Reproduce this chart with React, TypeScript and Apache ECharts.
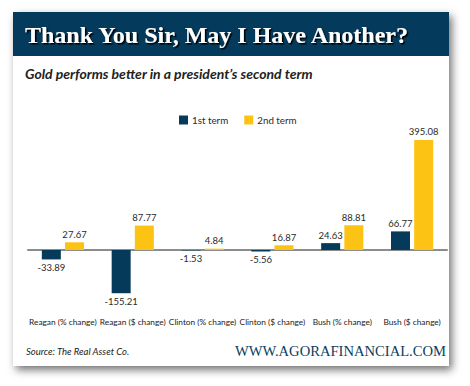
import React, { useEffect, useRef } from "react";
import * as echarts from "echarts";

const categories = [
  "Reagan (% change)",
  "Reagan ($ change)",
  "Clinton (% change)",
  "Clinton ($ change)",
  "Bush (% change)",
  "Bush ($ change)",
];
const firstTerm = [-33.89, -155.21, -1.53, -5.56, 24.63, 66.77];
const secondTerm = [27.67, 87.77, 4.84, 16.87, 88.81, 395.08];

const DARK = "#053a5a";
const GOLD = "#fdc314";

function withLabels(vals: number[]) {
  return vals.map((v) => ({
    value: v,
    label: { position: v < 0 ? "bottom" : "top" },
  }));
}

export default function App() {
  const ref = useRef<HTMLDivElement>(null);
  useEffect(() => {
    document.body.style.margin = "0";
    const chart = echarts.init(ref.current!, null, { renderer: "svg" });
    const labelStyle = {
      show: true,
      fontFamily: "Lato",
      fontSize: 9.5,
      color: "#2a2a2a",
      distance: 3,
      formatter: (p: any) => p.value.toFixed(2),
    };
    chart.setOption({
      animation: false,
      backgroundColor: "#ffffff",
      graphic: [
        {
          type: "rect",
          z: -10,
          shape: { x: 13, y: 12, width: 436, height: 354 },
          style: {
            fill: "#ffffff",
            shadowBlur: 9,
            shadowOffsetX: 3,
            shadowOffsetY: 4,
            shadowColor: "rgba(0,0,0,0.55)",
          },
        },
        {
          type: "rect",
          z: -9,
          shape: { x: 13, y: 12, width: 436, height: 44 },
          style: { fill: "#043a5b" },
        },
        {
          type: "text",
          z: 5,
          x: 25,
          y: 35,
          style: {
            text: "Thank You Sir, May I Have Another?",
            fontFamily: "Liberation Serif",
            fontWeight: "bold",
            fontSize: 24,
            fill: "#ffffff",
            textVerticalAlign: "middle",
            textShadowColor: "#000000",
            textShadowOffsetX: 1.5,
            textShadowOffsetY: 1.5,
            textShadowBlur: 1,
          },
        },
        {
          type: "text",
          z: 5,
          x: 25,
          y: 73,
          style: {
            text: "Gold performs better in a president\u2019s second term",
            fontFamily: "Lato",
            fontWeight: "bold",
            fontStyle: "italic",
            fontSize: 14,
            fill: "#222222",
            textVerticalAlign: "middle",
          },
        },
        {
          type: "text",
          z: 5,
          x: 26,
          y: 351,
          style: {
            text: "Source: The Real Asset Co.",
            fontFamily: "Lato",
            fontStyle: "italic",
            fontSize: 9.5,
            fill: "#222222",
            textVerticalAlign: "middle",
          },
        },
        {
          type: "text",
          z: 5,
          x: 446,
          y: 351,
          style: {
            text: "WWW.AGORAFINANCIAL.COM",
            fontFamily: "Liberation Serif",
            fontSize: 14.6,
            fill: "#0d3d5e",
            textAlign: "right",
            textVerticalAlign: "middle",
          },
        },
      ],
      legend: {
        top: 115,
        left: 179,
        padding: 0,
        itemWidth: 9,
        itemHeight: 9,
        itemGap: 16,
        icon: "rect",
        textStyle: { fontFamily: "Lato", fontSize: 9.8, color: "#2a2a2a", padding: [0, 0, 0, -1] },
        data: ["1st term", "2nd term"],
      },
      grid: { left: 28, right: 23, top: 133, bottom: 80.3 },
      xAxis: [
        {
          type: "category",
          data: categories,
          axisLine: { onZero: true, lineStyle: { color: "#8c8c8c", width: 2 } },
          axisTick: { show: false },
          axisLabel: { show: false },
        },
        {
          type: "category",
          data: categories,
          position: "bottom",
          axisLine: { show: false, onZero: false },
          axisTick: { show: false },
          axisLabel: {
            interval: 0,
            margin: 12,
            fontFamily: "Lato",
            fontSize: 8.3,
            color: "#222222",
            overflow: "none",
            width: 120,
          },
        },
      ],
      yAxis: {
        type: "value",
        min: -200,
        max: 420,
        show: false,
        splitLine: { show: false },
      },
      series: [
        {
          name: "1st term",
          type: "bar",
          xAxisIndex: 0,
          data: withLabels(firstTerm),
          barWidth: 19,
          barGap: "22%",
          itemStyle: { color: DARK },
          label: labelStyle,
        },
        {
          name: "2nd term",
          type: "bar",
          xAxisIndex: 0,
          data: withLabels(secondTerm),
          barWidth: 19,
          itemStyle: { color: GOLD },
          label: labelStyle,
        },
      ],
    });
    return () => chart.dispose();
  }, []);
  return <div ref={ref} style={{ width: 470, height: 386 }} />;
}
